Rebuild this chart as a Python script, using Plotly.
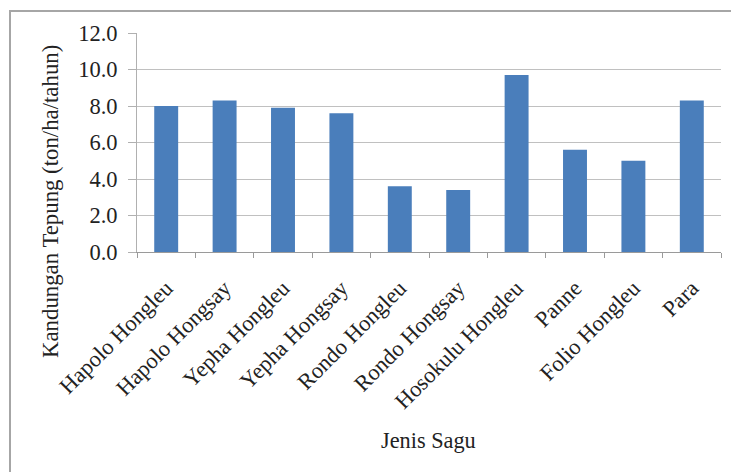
import plotly.graph_objects as go

categories = ["Hapolo Hongleu", "Hapolo Hongsay", "Yepha Hongleu", "Yepha Hongsay",
              "Rondo Hongleu", "Rondo Hongsay", "Hosokulu Hongleu", "Panne",
              "Folio Hongleu", "Para"]
values = [8.0, 8.3, 7.9, 7.6, 3.6, 3.4, 9.7, 5.6, 5.0, 8.3]
y_ticks = [0, 2, 4, 6, 8, 10, 12]
y_title = "Kandungan Tepung (ton/ha/tahun)"
x_title = "Jenis Sagu"

W, H = 731, 472
L, R, T, B = 137, 10, 33, 220
pw, ph = W - L - R, H - T - B

def px(x):
    return (x - L) / pw

def py(y):
    return (H - B - y) / ph

font = "Liberation Serif, Times New Roman, serif"

fig = go.Figure(go.Bar(x=categories, y=values, marker=dict(color="#4a7ebb", line=dict(width=0))))

fig.update_layout(
    width=W, height=H,
    margin=dict(l=L, r=R, t=T, b=B),
    paper_bgcolor="white", plot_bgcolor="white",
    bargap=0.59,
    showlegend=False,
    font=dict(family=font, size=22, color="#222"),
    shapes=[
        dict(type="rect", xref="paper", yref="paper",
             x0=px(10), x1=px(760), y0=py(500), y1=py(11),
             line=dict(color="#a6a6a6", width=2), fillcolor="rgba(0,0,0,0)", layer="below"),
    ],
    annotations=[
        dict(text=y_title, xref="paper", yref="paper", x=px(50), y=py(201),
             textangle=-90, showarrow=False, font=dict(family=font, size=22.8, color="#222"),
             xanchor="center", yanchor="middle"),
        dict(text=x_title, xref="paper", yref="paper", x=px(428), y=py(440),
             showarrow=False, font=dict(family=font, size=22.3, color="#222"),
             xanchor="center", yanchor="middle"),
    ],
)

fig.update_yaxes(
    range=[0, 12], tickvals=y_ticks, tickformat=".1f",
    showgrid=True, gridcolor="#c0c0c0", gridwidth=1,
    showline=True, linecolor="#b0b0b0", linewidth=1,
    ticks="outside", ticklen=8, tickcolor="#b0b0b0",
    zeroline=False, ticklabelstandoff=6,
    tickfont=dict(family=font, size=22.5, color="#222"),
)
fig.update_xaxes(
    tickangle=-45, tickson="boundaries", ticks="outside", ticklen=5, tickcolor="#9a9a9a",
    showline=True, linecolor="#9a9a9a", linewidth=1, showgrid=False,
    ticklabelstandoff=13,
    tickfont=dict(family=font, size=22.5, color="#222"),
)

fig.write_html("out.html")
